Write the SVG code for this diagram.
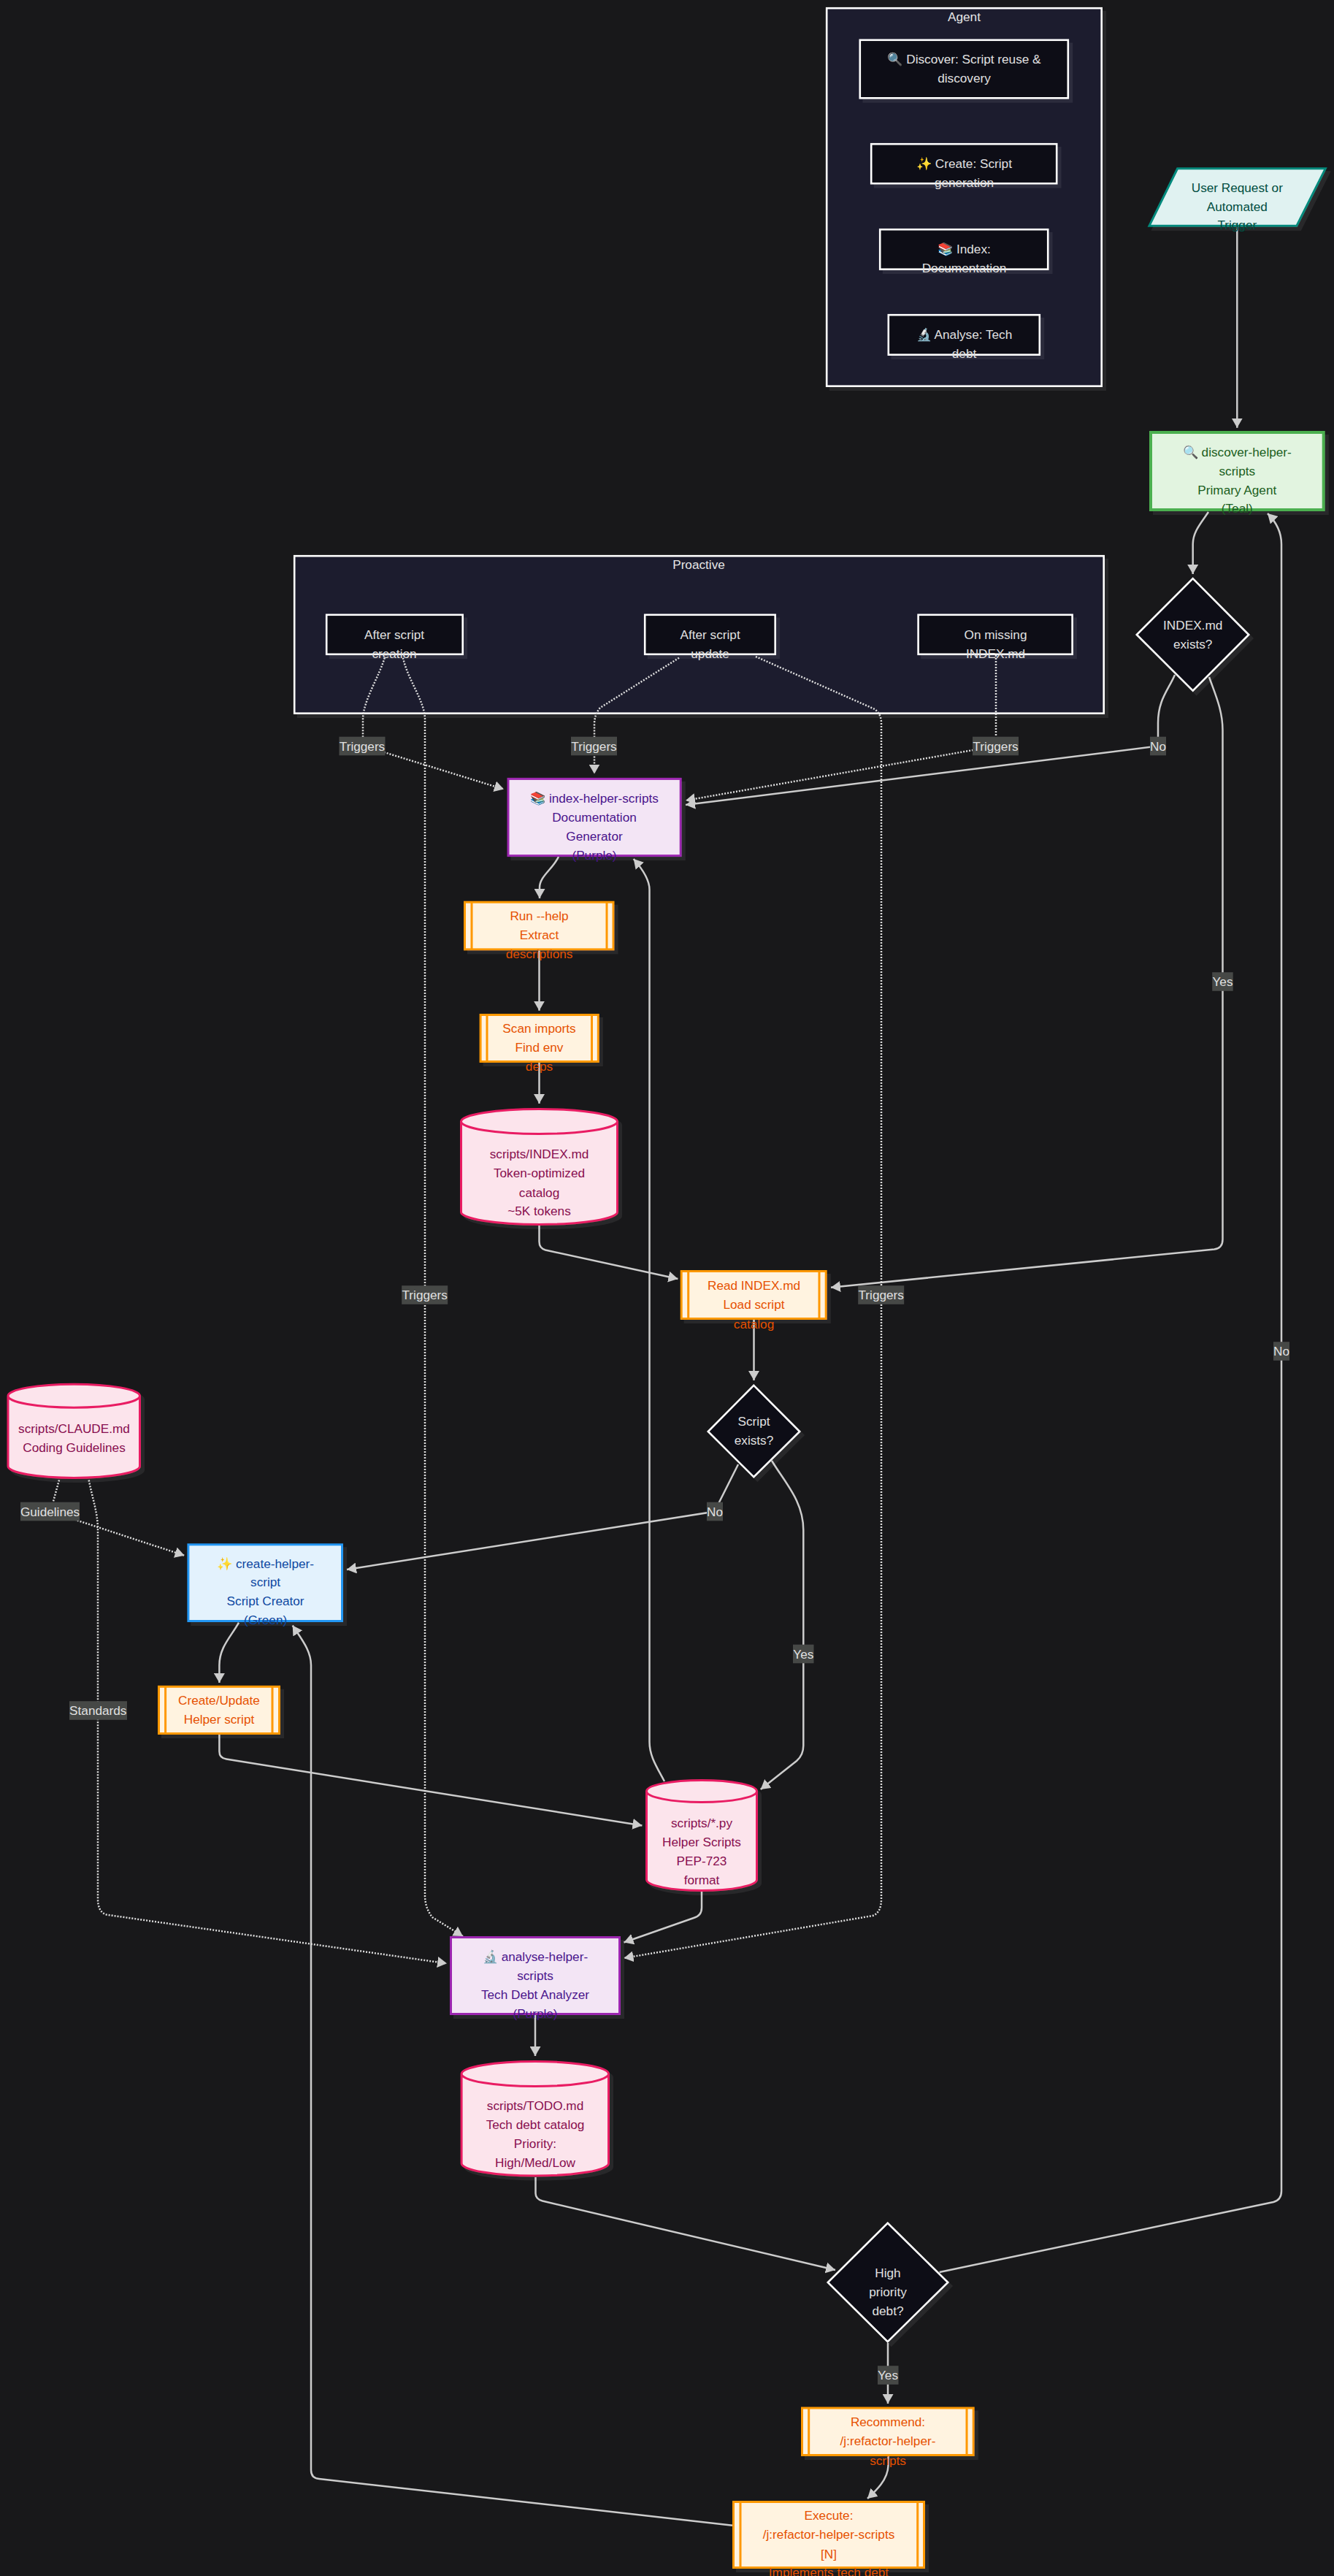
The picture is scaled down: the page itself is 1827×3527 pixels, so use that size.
<svg xmlns="http://www.w3.org/2000/svg" width="1827" height="3527" viewBox="0 0 1827 3527">
<style>
text{font-family:"Liberation Sans",Arial,sans-serif;font-size:17.2px;text-anchor:middle}
.sh{filter:url(#shadow)}
.cl{fill:#1e1e2e;stroke:#fff;stroke-width:2.6}
.cl-t{fill:#e6e6e6}
.dk{fill:#0d0d14;stroke:#fff;stroke-width:2.6}
.dk-t{fill:#e0e0e0}
.sub{fill:#fff3e0;stroke:#ff9800;stroke-width:3}
.sub-t{fill:#e65100}
.db{fill:#fce4ec;stroke:#e91e63;stroke-width:3}
.db-t{fill:#880e4f}
.pu{fill:#f3e5f5;stroke:#9c27b0;stroke-width:3}
.pu-t{fill:#4a148c}
.bl{fill:#e3f2fd;stroke:#2196f3;stroke-width:3}
.bl-t{fill:#0d47a1}
.gr{fill:#e2f4e0;stroke:#4caf50;stroke-width:4}
.gr-t{fill:#1b5e20}
.te{fill:#e0f2f1;stroke:#00897b;stroke-width:3}
.te-t{fill:#004d40}
.e{fill:none;stroke:#cccccc;stroke-width:2.5;marker-end:url(#arrow)}
.d{stroke-dasharray:2 2;stroke:#dddddd}
.lb{fill:#464846}
.lb-t{fill:#e0e0e0}
</style>
<defs>
<filter id="shadow" x="-10%" y="-10%" width="125%" height="125%"><feDropShadow dx="5" dy="5" stdDeviation="0" flood-color="#fff" flood-opacity="0.07"/></filter>
<marker id="arrow" viewBox="0 0 13 15" refX="13" refY="7.5" markerUnits="userSpaceOnUse" markerWidth="13" markerHeight="15" orient="auto"><path d="M0 0L13 7.5L0 15Z" fill="#cccccc"/></marker>
</defs>
<rect width="1827" height="3527" fill="#18181a"/>

<g id="cluster-agent"><rect class="cl sh" x="1132.2" y="11.2" width="376.5" height="517.5"/><text class="cl-t" x="1320.5" y="29">Agent</text></g>
<g id="cluster-proactive"><rect class="cl sh" x="403.2" y="761.2" width="1108.5" height="215.5"/><text class="cl-t" x="957" y="779">Proactive</text></g>

<g id="connectors">
<path class="e" d="M1694.3 311V585.7"/>
<path class="e" d="M1655 701C1645 716 1633.7 728 1633.7 745V786"/>
<path class="e" d="M1609 924C1600 945 1586 958 1586 990V1021.5L939 1102"/>
<path class="e" d="M1656 927C1664 950 1674.5 972 1674.5 1000V1697Q1674.5 1709 1663 1710.5L1138 1762.7"/>
<path class="e" d="M1032.5 1807V1890"/>
<path class="e" d="M1011 2005L985 2056.7L979 2069.5L475 2149"/>
<path class="e" d="M1057 2000C1075 2030 1100.3 2055 1100.3 2095V2390Q1100.3 2403 1091 2411L1041.7 2450"/>
<path class="e" d="M910 2439C900 2420 889.5 2405 889.5 2385V1218C889.5 1205 880 1190 867.7 1176"/>
<path class="e" d="M765 1173C757 1190 739 1200 739 1215V1230"/>
<path class="e" d="M738.5 1301.4V1383.7"/>
<path class="e" d="M738.5 1455V1511"/>
<path class="e" d="M738.5 1678V1700Q738.5 1709 747 1711.5L928.4 1751"/>
<path class="e" d="M327 2221.6C317 2240 300.4 2255 300.4 2280V2304"/>
<path class="e" d="M300.4 2375V2398Q300.4 2407 310 2408.5L879.4 2499.5"/>
<path class="e" d="M961 2590V2612Q961 2623 950 2626L854.5 2659.5"/>
<path class="e" d="M733 2759V2815"/>
<path class="e" d="M733.5 2981V3003Q733.5 3011 743 3013.5L1144 3108"/>
<path class="e" d="M1286.7 3111L1744 3015Q1755 3012 1755 3000V745C1755 730 1748 715 1736 703"/>
<path class="e" d="M1216 3208V3291"/>
<path class="e" d="M1216.5 3363V3376C1216 3395 1200 3410 1188 3421"/>
<path class="e" d="M1003 3457.7L437 3394Q426 3393 426 3382V2281C426.5 2260 412 2243 400.7 2225.5"/>
<path class="e d" d="M526.7 900.7C520 925 497 960 497 985V1021L690 1080.6"/>
<path class="e d" d="M930 900.7L822 969Q814 978 814 992V1059.6"/>
<path class="e d" d="M1035 899L1198 971Q1207 978 1207 990V2600Q1207 2619 1195 2623L854.5 2681"/>
<path class="e d" d="M1364 897V1021.5L939 1096"/>
<path class="e d" d="M552 900.7C558 930 582 960 582 985V2595Q582 2612 592 2625L634 2651"/>
<path class="e d" d="M121.7 2026.5C126 2050 134 2070 134 2095V2600Q134 2618 146 2621.6L612 2688.3"/>
<path class="e d" d="M81 2026.5L72.7 2056.7L68.5 2069.5L252.6 2129.8"/>
</g>

<g id="edge-labels">
<rect class="lb" x="464.5" y="1008.7" width="63" height="25.6"/><text class="lb-t" x="496" y="1027.5">Triggers</text>
<rect class="lb" x="782" y="1008.7" width="63" height="25.6"/><text class="lb-t" x="813.5" y="1027.5">Triggers</text>
<rect class="lb" x="1332" y="1008.7" width="63" height="25.6"/><text class="lb-t" x="1363.5" y="1027.5">Triggers</text>
<rect class="lb" x="1575" y="1008.7" width="22" height="25.6"/><text class="lb-t" x="1586" y="1027.5">No</text>
<rect class="lb" x="1660.2" y="1331.2" width="28.5" height="25.6"/><text class="lb-t" x="1674.5" y="1350">Yes</text>
<rect class="lb" x="550.2" y="1760.2" width="63" height="25.6"/><text class="lb-t" x="581.7" y="1779">Triggers</text>
<rect class="lb" x="1175.2" y="1760.2" width="63" height="25.6"/><text class="lb-t" x="1206.7" y="1779">Triggers</text>
<rect class="lb" x="1744" y="1837.2" width="22" height="25.6"/><text class="lb-t" x="1755" y="1856">No</text>
<rect class="lb" x="968" y="2056.7" width="22" height="25.6"/><text class="lb-t" x="979" y="2075.5">No</text>
<rect class="lb" x="28" y="2056.7" width="81" height="25.6"/><text class="lb-t" x="68.5" y="2075.5">Guidelines</text>
<rect class="lb" x="1086" y="2251.7" width="28.5" height="25.6"/><text class="lb-t" x="1100.3" y="2270.5">Yes</text>
<rect class="lb" x="95" y="2329.2" width="79" height="25.6"/><text class="lb-t" x="134.3" y="2348">Standards</text>
<rect class="lb" x="1202" y="3239.2" width="28.5" height="25.6"/><text class="lb-t" x="1216" y="3258">Yes</text>
</g>

<g id="n-discover-mode"><rect class="dk sh" x="1177.8" y="54.8" width="285" height="79.5"/><text class="dk-t"><tspan x="1320.5" y="87">🔍 Discover: Script reuse &amp;</tspan><tspan x="1320.5" y="113">discovery</tspan></text></g>
<g id="n-create-mode"><rect class="dk sh" x="1193.2" y="197.2" width="254" height="54"/><text class="dk-t"><tspan x="1320.5" y="230">✨ Create: Script</tspan><tspan x="1320.5" y="256">generation</tspan></text></g>
<g id="n-index-mode"><rect class="dk sh" x="1205.2" y="314.2" width="230" height="54.5"/><text class="dk-t"><tspan x="1320.5" y="347">📚 Index:</tspan><tspan x="1320.5" y="373">Documentation</tspan></text></g>
<g id="n-analyse-mode"><rect class="dk sh" x="1216.8" y="431.2" width="207" height="54.5"/><text class="dk-t"><tspan x="1320.5" y="464">🔬 Analyse: Tech</tspan><tspan x="1320.5" y="490">debt</tspan></text></g>

<g id="n-trigger"><polygon class="te sh" points="1612.6,230.8 1815.3,230.8 1775.9,309.2 1574,309.2"/><text class="te-t"><tspan x="1694.3" y="263">User Request or</tspan><tspan x="1694.3" y="288.5">Automated</tspan><tspan x="1694.3" y="314">Trigger</tspan></text></g>
<g id="n-discover"><rect class="gr sh" x="1576" y="592" width="236.7" height="106"/><text class="gr-t"><tspan x="1694.3" y="625">🔍 discover-helper-</tspan><tspan x="1694.3" y="651">scripts</tspan><tspan x="1694.3" y="676.5">Primary Agent</tspan><tspan x="1694.3" y="702">(Teal)</tspan></text></g>
<g id="n-index-exists"><polygon class="dk sh" points="1633.7,792.2 1710.2,869 1633.7,945.7 1556.8,869"/><text class="dk-t"><tspan x="1633.7" y="862">INDEX.md</tspan><tspan x="1633.7" y="888">exists?</tspan></text></g>

<g id="n-after-create"><rect class="dk sh" x="447.2" y="841.8" width="186.5" height="54"/><text class="dk-t"><tspan x="540" y="875">After script</tspan><tspan x="540" y="900.5">creation</tspan></text></g>
<g id="n-after-update"><rect class="dk sh" x="883.2" y="841.8" width="178.5" height="54"/><text class="dk-t"><tspan x="972.6" y="875">After script</tspan><tspan x="972.6" y="900.5">update</tspan></text></g>
<g id="n-on-missing"><rect class="dk sh" x="1257.6" y="841.8" width="211" height="54"/><text class="dk-t"><tspan x="1363.5" y="875">On missing</tspan><tspan x="1363.5" y="900.5">INDEX.md</tspan></text></g>

<g id="n-index"><rect class="pu sh" x="696" y="1066.4" width="236.2" height="105.2"/><text class="pu-t"><tspan x="814" y="1099">📚 index-helper-scripts</tspan><tspan x="814" y="1125">Documentation</tspan><tspan x="814" y="1150.5">Generator</tspan><tspan x="814" y="1176.5">(Purple)</tspan></text></g>
<g id="n-run-help"><rect class="sub sh" x="636.5" y="1235.2" width="203.5" height="64.7"/><path class="sub" d="M646 1235.2V1299.9M831 1235.2V1299.9"/><text class="sub-t"><tspan x="738.5" y="1260">Run --help</tspan><tspan x="738.5" y="1286">Extract</tspan><tspan x="738.5" y="1312">descriptions</tspan></text></g>
<g id="n-scan"><rect class="sub sh" x="658.1" y="1389.5" width="161.2" height="64"/><path class="sub" d="M667 1389.5V1453.5M810.5 1389.5V1453.5"/><text class="sub-t"><tspan x="738.5" y="1414">Scan imports</tspan><tspan x="738.5" y="1440">Find env</tspan><tspan x="738.5" y="1466">deps</tspan></text></g>
<g id="n-index-md"><path class="db sh" d="M631.5 1535.5a107 17 0 0 0 214 0a107 17 0 0 0 -214 0v124a107 17 0 0 0 214 0v-124"/><text class="db-t"><tspan x="738.5" y="1586">scripts/INDEX.md</tspan><tspan x="738.5" y="1612">Token-optimized</tspan><tspan x="738.5" y="1638.5">catalog</tspan><tspan x="738.5" y="1664">~5K tokens</tspan></text></g>
<g id="n-read"><rect class="sub sh" x="933.2" y="1740.5" width="198" height="65"/><path class="sub" d="M942.7 1740.5V1805.5M1122 1740.5V1805.5"/><text class="sub-t"><tspan x="1032.5" y="1766">Read INDEX.md</tspan><tspan x="1032.5" y="1792">Load script</tspan><tspan x="1032.5" y="1818.5">catalog</tspan></text></g>
<g id="n-script-exists"><polygon class="dk sh" points="1032.3,1896.8 1095.2,1960 1032.3,2022.2 969.8,1960"/><text class="dk-t"><tspan x="1032.5" y="1952">Script</tspan><tspan x="1032.5" y="1978">exists?</tspan></text></g>
<g id="n-claude-md"><path class="db sh" d="M11 1911.2a90.25 16 0 0 0 180.5 0a90.25 16 0 0 0 -180.5 0v96.3a90.25 16 0 0 0 180.5 0v-96.3"/><text class="db-t"><tspan x="101.5" y="1962">scripts/CLAUDE.md</tspan><tspan x="101.5" y="1988">Coding Guidelines</tspan></text></g>
<g id="n-create"><rect class="bl sh" x="257.9" y="2114.8" width="210.6" height="104.7"/><text class="bl-t"><tspan x="363.6" y="2147">✨ create-helper-</tspan><tspan x="363.6" y="2172">script</tspan><tspan x="363.6" y="2198">Script Creator</tspan><tspan x="363.6" y="2224">(Green)</tspan></text></g>
<g id="n-create-update"><rect class="sub sh" x="217.5" y="2309.3" width="165" height="64.2"/><path class="sub" d="M226.6 2309.3V2373.5M373 2309.3V2373.5"/><text class="sub-t"><tspan x="300" y="2334">Create/Update</tspan><tspan x="300" y="2360">Helper script</tspan></text></g>
<g id="n-scripts-py"><path class="db sh" d="M885.5 2452.5a75.5 15 0 0 0 151 0a75.5 15 0 0 0 -151 0v121a75.5 15 0 0 0 151 0v-121"/><text class="db-t"><tspan x="961" y="2502">scripts/*.py</tspan><tspan x="961" y="2528">Helper Scripts</tspan><tspan x="961" y="2554">PEP-723</tspan><tspan x="961" y="2580">format</tspan></text></g>
<g id="n-analyse"><rect class="pu sh" x="617.5" y="2652.5" width="231" height="105"/><text class="pu-t"><tspan x="733" y="2685">🔬 analyse-helper-</tspan><tspan x="733" y="2711">scripts</tspan><tspan x="733" y="2737">Tech Debt Analyzer</tspan><tspan x="733" y="2763">(Purple)</tspan></text></g>
<g id="n-todo-md"><path class="db sh" d="M632.1 2839.5a100.7 17 0 0 0 201.4 0a100.7 17 0 0 0 -201.4 0v122.5a100.7 17 0 0 0 201.4 0v-122.5"/><text class="db-t"><tspan x="733" y="2889">scripts/TODO.md</tspan><tspan x="733" y="2915">Tech debt catalog</tspan><tspan x="733" y="2941">Priority:</tspan><tspan x="733" y="2967">High/Med/Low</tspan></text></g>
<g id="n-high-priority"><polygon class="dk sh" points="1215.7,3043.8 1298.2,3125 1215.7,3206.2 1133.8,3125"/><text class="dk-t"><tspan x="1216" y="3118">High</tspan><tspan x="1216" y="3144">priority</tspan><tspan x="1216" y="3170">debt?</tspan></text></g>
<g id="n-recommend"><rect class="sub sh" x="1098.5" y="3297" width="234.7" height="64.5"/><path class="sub" d="M1107.7 3297V3361.5M1324 3297V3361.5"/><text class="sub-t"><tspan x="1216" y="3322">Recommend:</tspan><tspan x="1216" y="3348">/j:refactor-helper-</tspan><tspan x="1216" y="3375">scripts</tspan></text></g>
<g id="n-execute"><rect class="sub sh" x="1004.5" y="3425.5" width="261" height="90"/><path class="sub" d="M1014 3425.5V3515.5M1256.7 3425.5V3515.5"/><text class="sub-t"><tspan x="1135" y="3450">Execute:</tspan><tspan x="1135" y="3476">/j:refactor-helper-scripts</tspan><tspan x="1135" y="3502.5">[N]</tspan><tspan x="1135" y="3528">Implements tech debt</tspan></text></g>
</svg>
